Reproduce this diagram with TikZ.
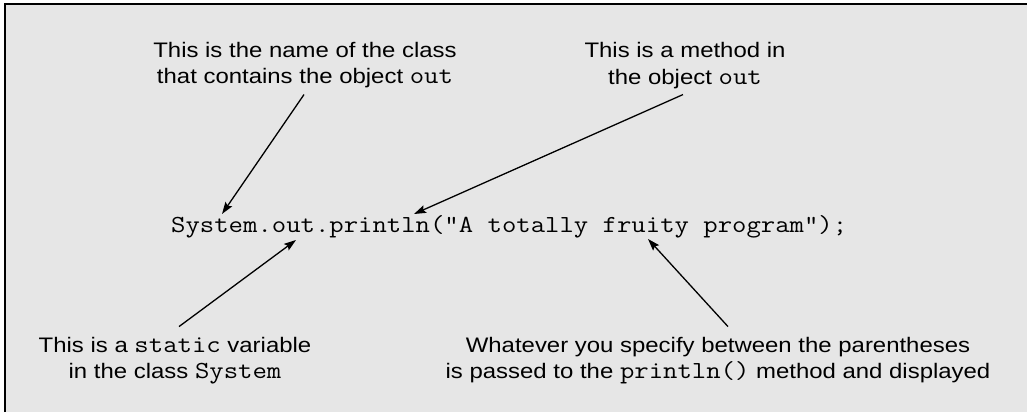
\documentclass[tikz,border=0pt]{standalone}
\usepackage{fontspec}
\setmainfont[FakeStretch=1.14]{Liberation Sans}
\newfontfamily\codefont[FakeStretch=1.14]{Latin Modern Mono}
\usetikzlibrary{arrows.meta}
\definecolor{bggray}{HTML}{E6E6E6}
\newcommand{\cd}[1]{{\codefont\fontsize{24.5}{26}\selectfont #1}}
\tikzset{
  lbl/.style={align=center, inner sep=0pt, anchor=base, font=\fontsize{21}{26}\selectfont},
  pointer/.style={line width=1.3pt, -{Stealth[length=12pt,width=8pt,inset=2pt]}}
}
\begin{document}
\begin{tikzpicture}[x=1pt,y=-1pt]
\useasboundingbox (0,0) rectangle (1027,412);
\fill[bggray] (5,4) rectangle (1027,412);
\draw[line width=2pt] (5,412) -- (5,4) -- (1027,4);

\node[lbl] (topL) at (305,83) {This is the name of the class\\that contains the object \cd{out}};
\node[lbl] (topR) at (685,84) {This is a method in\\the object \cd{out}};
\node[inner sep=0pt, anchor=base west] (code) at (171,232) {\cd{System.out.println("A totally fruity program");}};
\node[lbl] (botL) at (175,378) {This is a \cd{static} variable\\in the class \cd{System}};
\node[lbl] (botR) at (718,378) {Whatever you specify between the parentheses\\is passed to the \cd{println()} method and displayed};

\coordinate (tipA) at (222,214);
\coordinate (tipB) at (414,214);
\coordinate (tipC) at (296,240);
\coordinate (tipD) at (648,239);

\draw[pointer] (topL.south) ++(-1,7) -- (tipA);
\draw[pointer] (topR.south) ++(-2,6) -- (tipB);
\draw[pointer] (botL.north) ++(4,-10) -- (tipC);
\draw[pointer] (botR.north) ++(10,-10) -- (tipD);
\end{tikzpicture}
\end{document}
